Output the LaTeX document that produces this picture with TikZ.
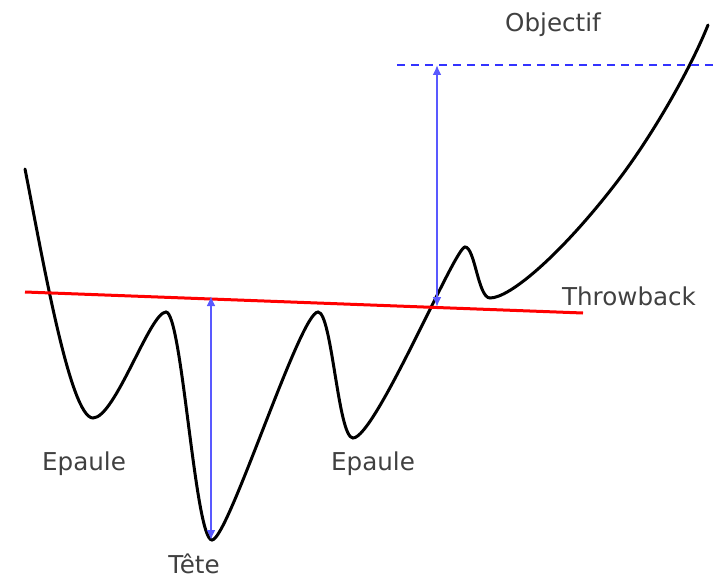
\documentclass[tikz,border=0pt]{standalone}
\usepackage{fontspec}
\setmainfont{DejaVu Sans}
\usetikzlibrary{arrows.meta}
\begin{document}
\begin{tikzpicture}[
    x=0.5pt,
    y=-0.5pt,
    label/.style={
        text=black!75,
        font=\fontsize{12.3}{14}\selectfont,
        inner sep=0pt
    },
    price/.style={
        draw, line width=1.5pt, line cap=round
    },
    neckline/.style={
        draw=red, line width=1.5pt
    },
    measure/.style={
        draw=blue!65, line width=1.1pt,
        {Latex[length=5pt,width=4.5pt]}-{Latex[length=5pt,width=4.5pt]}
    },
    target/.style={
        draw=blue!80, line width=1pt, dash pattern=on 4pt off 3pt
    }
]
\useasboundingbox (0,0) rectangle (715,577);

% Coordinates
\coordinate (nl-a) at (25,292);
\coordinate (nl-b) at (583,313);
\coordinate (head-top) at (211,296);
\coordinate (head-bot) at (211,540);
\coordinate (obj-top) at (437,65);
\coordinate (obj-bot) at (437,307);
\coordinate (obj-a) at (397,65);
\coordinate (obj-b) at (715,65);

% Price curve
\draw [price] (25,169)
    .. controls (42,255) and (70,418) .. (93,418)
    .. controls (115,418) and (150,312) .. (166,312)
    .. controls (182,312) and (195,540) .. (212,540)
    .. controls (228,540) and (300,312) .. (318,312)
    .. controls (332,312) and (338,438) .. (353,438)
    .. controls (375,438) and (455,247) .. (465,247)
    .. controls (475,247) and (478,298) .. (490,298)
    .. controls (510,298) and (560,255) .. (613,187)
    .. controls (650,140) and (690,70) .. (708,25);

% Lines
\draw [neckline] (nl-a) -- (nl-b);
\draw [target] (obj-a) -- (obj-b);

% Arrows
\draw [measure] (head-top) -- (head-bot);
\draw [measure] (obj-top) -- (obj-bot);

% Labels
\node [label] (objectif) at (553,25) {Objectif};
\node [label] (throwback) at (629,296) {Throwback};
\node [label] (epaule-g) at (84,464) {Epaule};
\node [label] (epaule-d) at (373,464) {Epaule};
\node [label] (tete) at (194,564) {Tête};

\end{tikzpicture}
\end{document}
